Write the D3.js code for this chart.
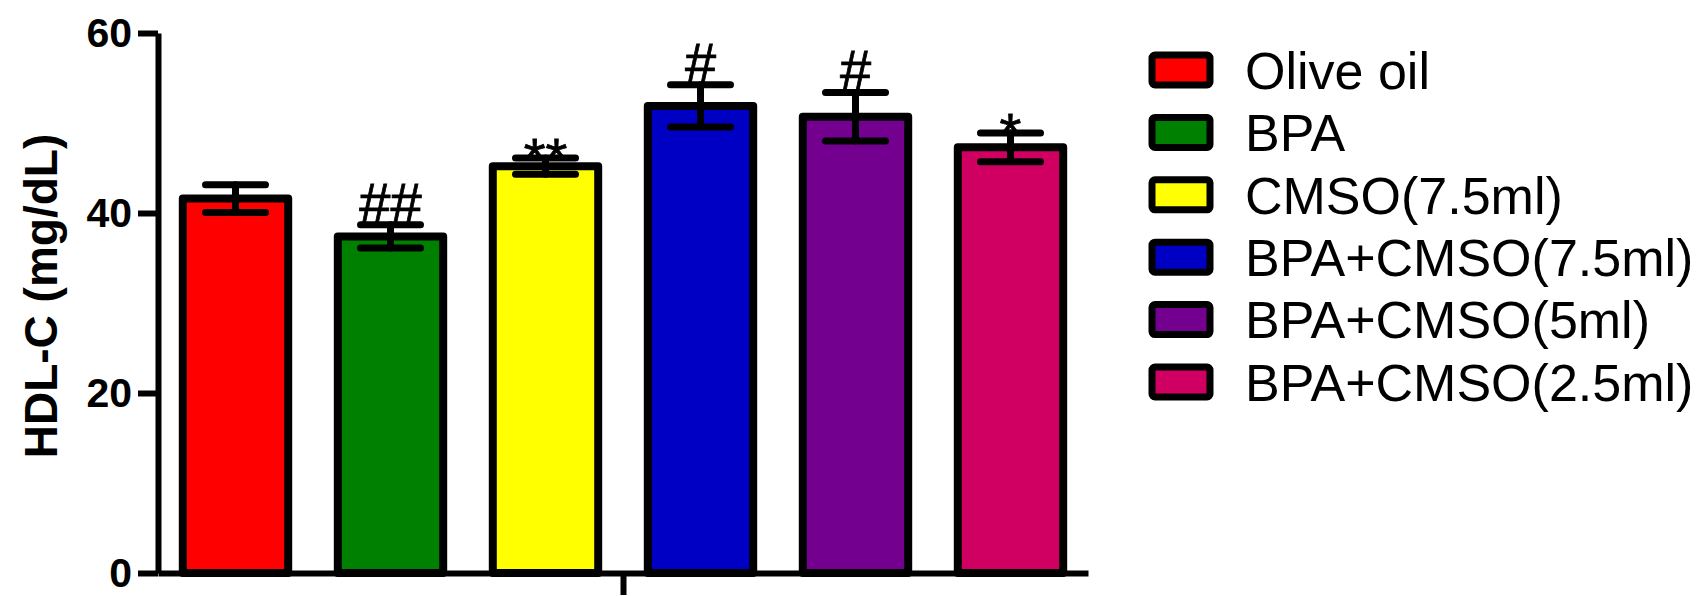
<!DOCTYPE html>
<html>
<script src='https://d3js.org/d3.v7.min.js'></script>
<style>
 body {margin: 0; background: white;}
 text {font-family: 'Liberation Sans', Arial, sans-serif;}
</style>
<body onload='init()'>
<svg width=1700 height=596></svg>
<script>

// groups, mean values, SEM and significance marks
var groups = ['Olive oil', 'BPA', 'CMSO(7.5ml)', 'BPA+CMSO(7.5ml)', 'BPA+CMSO(5ml)', 'BPA+CMSO(2.5ml)'];
var means = [41.6, 37.4, 45.2, 51.9, 50.7, 47.3];
var sems = [1.55, 1.3, 0.9, 2.35, 2.7, 1.6];
var marks = ['', '##', '**', '#', '#', '*'];
var colors = ['#ff0000', '#008000', '#ffff00', '#0000c4', '#74008f', '#cf0061'];
var yTicks = [0, 20, 40, 60];

function init() {

 var svg = d3.select('svg');

 var x = d3.scaleBand().domain(groups).range([158, 1088]).paddingInner(0.32).paddingOuter(0.16);
 var y = d3.scaleLinear().domain([0, 60]).range([573, 33]);

 // bars
 svg.append('g')
  .selectAll('rect')
  .data(groups)
  .enter()
   .append('rect')
    .attr('x', function (d) { return x(d); })
    .attr('y', function (d, i) { return y(means[i]); })
    .attr('width', x.bandwidth())
    .attr('height', function (d, i) { return y(0) - y(means[i]); })
    .style('fill', function (d, i) { return colors[i]; })
    .style('stroke', 'black')
    .style('stroke-width', 8)
    .style('stroke-linejoin', 'round');

 // error bars
 var eb = svg.append('g')
  .style('stroke', 'black')
  .style('stroke-width', 7)
  .style('stroke-linecap', 'round');

 groups.forEach(function (d, i) {
  var cx = x(d) + x.bandwidth() / 2;
  var hi = y(means[i] + sems[i]), lo = y(means[i] - sems[i]);
  eb.append('line').attr('x1', cx).attr('x2', cx).attr('y1', hi).attr('y2', lo);
  eb.append('line').attr('x1', cx - 30).attr('x2', cx + 30).attr('y1', hi).attr('y2', hi);
  eb.append('line').attr('x1', cx - 30).attr('x2', cx + 30).attr('y1', lo).attr('y2', lo);
 });

 // significance marks
 svg.append('g')
  .selectAll('text')
  .data(groups)
  .enter()
   .append('text')
    .attr('x', function (d) { return x(d) + x.bandwidth() / 2; })
    .attr('y', function (d, i) {
      var top = y(means[i] + sems[i]);
      return marks[i].charAt(0) == '*' ? top + 19 : top - 3;
    })
    .attr('text-anchor', 'middle')
    .style('font-size', '56px')
    .style('stroke', 'black')
    .style('stroke-width', 0.8)
    .text(function (d, i) { return marks[i]; });

 // y axis
 var ya = svg.append('g')
  .attr('transform', 'translate(158,0)')
  .call(d3.axisLeft(y).tickValues(yTicks).tickSize(20).tickSizeOuter(0).tickPadding(6).tickFormat(d3.format('d')));
 ya.selectAll('path, line').style('stroke', 'black').style('stroke-width', 6);
 ya.selectAll('text').style('font-size', '41px').style('font-weight', 'bold')
  .style('font-family', "'Liberation Sans', Arial, sans-serif");

 // x axis with a single centre tick
 var xg = d3.scaleLinear().domain([0, 1]).range([158, 1088]);
 var xa = svg.append('g')
  .attr('transform', 'translate(0,573)')
  .call(d3.axisBottom(xg).tickValues([0.5]).tickSize(22).tickSizeOuter(0).tickFormat(''));
 xa.selectAll('path, line').style('stroke', 'black').style('stroke-width', 6);

 // y title
 svg.append('text')
  .attr('transform', 'translate(57,296) rotate(-90)')
  .attr('text-anchor', 'middle')
  .style('font-size', '46px')
  .style('font-weight', 'bold')
  .text('HDL-C (mg/dL)');

 // legend
 var lg = svg.append('g')
  .selectAll('g')
  .data(groups)
  .enter()
   .append('g')
    .attr('transform', function (d, i) { return 'translate(1152,' + (70 + i * 62.4) + ')'; });

 lg.append('rect')
  .attr('x', 0).attr('y', -15)
  .attr('width', 58).attr('height', 30)
  .attr('rx', 3)
  .style('fill', function (d, i) { return colors[i]; })
  .style('stroke', 'black')
  .style('stroke-width', 7);

 lg.append('text')
  .attr('x', 93)
  .attr('dy', '0.36em')
  .style('font-size', '52px')
  .text(function (d) { return d; });

}

</script>
</body>
</html>
